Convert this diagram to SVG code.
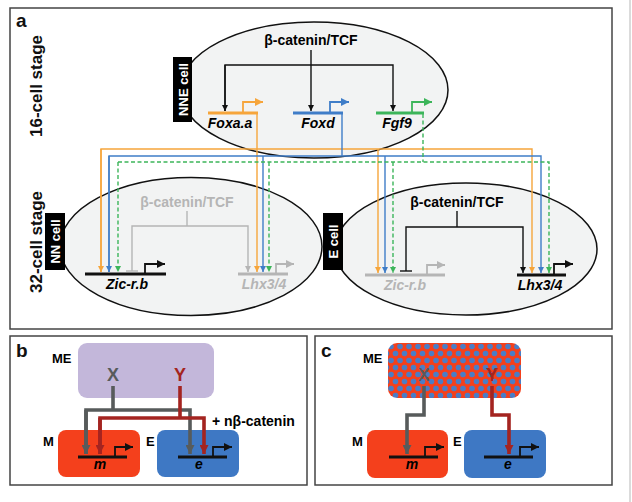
<svg xmlns="http://www.w3.org/2000/svg" width="632" height="502" viewBox="0 0 632 502">
<style>
text{font-family:"Liberation Sans",Arial,sans-serif;font-weight:bold}
.frame{fill:#fff;stroke:#444;stroke-width:1.5}
.cell{fill:#f2f3f3;stroke:#111;stroke-width:1.5}
.lbl{fill:#000}
.lbltxt{fill:#fff;font-size:13px;text-anchor:middle}
.bc{font-size:14px;text-anchor:middle}
.gene{font-size:14px;font-style:italic;text-anchor:middle}
.stage{font-size:17px;text-anchor:middle;fill:#111}
.pl{font-size:19px;fill:#111}
.thin{fill:none;stroke-width:1.4}
.gl{fill:none;stroke-width:3.2}
.pr{fill:none;stroke-width:1.8}
.k{stroke:#111}.o{stroke:#f6a53b}.b{stroke:#3f7dc8}.g{stroke:#3cb55a}.gr{stroke:#b5b5b5}
.dash{stroke-dasharray:4 2.5}
.fat{fill:none;stroke-width:3.6}
.dg{stroke:#575b5b}.dr{stroke:#a42420}
</style>
<defs>
<marker id="ak" viewBox="0 0 10 10" refX="10" refY="5" markerUnits="userSpaceOnUse" markerWidth="7" markerHeight="6" orient="auto"><path d="M0,0L10,5L0,10z" fill="#111"/></marker>
<marker id="ao" viewBox="0 0 10 10" refX="10" refY="5" markerUnits="userSpaceOnUse" markerWidth="7" markerHeight="6" orient="auto"><path d="M0,0L10,5L0,10z" fill="#f6a53b"/></marker>
<marker id="ab" viewBox="0 0 10 10" refX="10" refY="5" markerUnits="userSpaceOnUse" markerWidth="7" markerHeight="6" orient="auto"><path d="M0,0L10,5L0,10z" fill="#3f7dc8"/></marker>
<marker id="ag" viewBox="0 0 10 10" refX="10" refY="5" markerUnits="userSpaceOnUse" markerWidth="7" markerHeight="6" orient="auto"><path d="M0,0L10,5L0,10z" fill="#3cb55a"/></marker>
<marker id="agr" viewBox="0 0 10 10" refX="10" refY="5" markerUnits="userSpaceOnUse" markerWidth="7" markerHeight="6" orient="auto"><path d="M0,0L10,5L0,10z" fill="#b5b5b5"/></marker>
<marker id="pk" viewBox="0 0 10 10" refX="10" refY="5" markerUnits="userSpaceOnUse" markerWidth="8" markerHeight="8" orient="auto"><path d="M0,0L10,5L0,10z" fill="#111"/></marker>
<marker id="po" viewBox="0 0 10 10" refX="10" refY="5" markerUnits="userSpaceOnUse" markerWidth="8" markerHeight="8" orient="auto"><path d="M0,0L10,5L0,10z" fill="#f6a53b"/></marker>
<marker id="pb" viewBox="0 0 10 10" refX="10" refY="5" markerUnits="userSpaceOnUse" markerWidth="8" markerHeight="8" orient="auto"><path d="M0,0L10,5L0,10z" fill="#3f7dc8"/></marker>
<marker id="pg" viewBox="0 0 10 10" refX="10" refY="5" markerUnits="userSpaceOnUse" markerWidth="8" markerHeight="8" orient="auto"><path d="M0,0L10,5L0,10z" fill="#3cb55a"/></marker>
<marker id="pgr" viewBox="0 0 10 10" refX="10" refY="5" markerUnits="userSpaceOnUse" markerWidth="8" markerHeight="8" orient="auto"><path d="M0,0L10,5L0,10z" fill="#b5b5b5"/></marker>
<marker id="fdg" viewBox="0 0 10 10" refX="10" refY="5" markerUnits="userSpaceOnUse" markerWidth="9" markerHeight="9" orient="auto"><path d="M0,0L10,5L0,10z" fill="#575b5b"/></marker>
<marker id="fdr" viewBox="0 0 10 10" refX="10" refY="5" markerUnits="userSpaceOnUse" markerWidth="9" markerHeight="9" orient="auto"><path d="M0,0L10,5L0,10z" fill="#a42420"/></marker>
<pattern id="dots" x="388" y="343" width="9" height="14" patternUnits="userSpaceOnUse">
<rect width="9" height="14" fill="#f4401c"/>
<circle cx="3" cy="3.5" r="2.8" fill="#4a7dc6"/>
<circle cx="7.5" cy="10.5" r="2.8" fill="#4a7dc6"/>
<circle cx="-1.5" cy="10.5" r="2.8" fill="#4a7dc6"/>
</pattern>
</defs>
<line x1="630" y1="0" x2="630" y2="502" stroke="#cfcfcf" stroke-width="1.5"/>

<!-- Panel a -->
<g id="panel-a">
<rect class="frame" x="10" y="8" width="602" height="321"/>
<text class="pl" x="16" y="27">a</text>
<text class="stage" transform="translate(42,86) rotate(-90)">16-cell stage</text>
<text class="stage" transform="translate(42,242) rotate(-90)">32-cell stage</text>
</g>

<g id="nne-cell">
<ellipse class="cell" cx="314" cy="90" rx="134" ry="68"/>
<rect class="lbl" x="173" y="57" width="19" height="65"/>
<text class="lbltxt" transform="translate(187.5,89.5) rotate(-90)">NNE cell</text>
<text class="bc" x="311" y="45">β-catenin/TCF</text>
<path class="thin k" d="M311,50V111" marker-end="url(#ak)"/>
<path class="thin k" d="M225,111V65H393V111" marker-end="url(#ak)"/>
<path class="thin k" d="M225,65V111" marker-end="url(#ak)"/>
<line class="gl o" x1="208" y1="113" x2="258" y2="113"/>
<path class="pr o" d="M243,112V102H263" marker-end="url(#po)"/>
<text class="gene" x="230" y="128">Foxa.a</text>
<line class="gl b" x1="293" y1="113" x2="343" y2="113"/>
<path class="pr b" d="M330,112V102H349" marker-end="url(#pb)"/>
<text class="gene" x="318" y="128">Foxd</text>
<line class="gl g" x1="376" y1="113" x2="424" y2="113"/>
<path class="pr g" d="M412,112V102H432" marker-end="url(#pg)"/>
<text class="gene" x="397" y="128">Fgf9</text>
</g>

<g id="nn-cell">
<ellipse class="cell" cx="191" cy="246.5" rx="131" ry="69"/>
<rect class="lbl" x="45" y="213" width="20" height="57"/>
<text class="lbltxt" transform="translate(60,241.5) rotate(-90)">NN cell</text>
<text class="bc" x="187" y="207" fill="#b5b5b5">β-catenin/TCF</text>
<path class="thin gr" d="M187,211V226"/>
<path class="thin gr" d="M132,271V226H248V272" marker-end="url(#agr)"/>
<line class="thin gr" x1="126" y1="271" x2="138" y2="271" stroke-width="2"/>
<line class="gl k" x1="85" y1="274" x2="166" y2="274"/>
<path class="pr k" d="M145,273V264H165" marker-end="url(#pk)"/>
<text class="gene" x="127" y="289">Zic-r.b</text>
<line class="gl gr" x1="238" y1="274" x2="288" y2="274"/>
<path class="pr gr" d="M276,273V264H294" marker-end="url(#pgr)"/>
<text class="gene" x="264" y="289" fill="#b5b5b5">Lhx3/4</text>
</g>

<g id="e-cell">
<ellipse class="cell" cx="466" cy="249" rx="131" ry="66"/>
<rect class="lbl" x="323" y="213" width="20" height="57"/>
<text class="lbltxt" transform="translate(338,241.5) rotate(-90)">E cell</text>
<text class="bc" x="457" y="207">β-catenin/TCF</text>
<path class="thin k" d="M457,211V227"/>
<path class="thin k" d="M406,271V227H523V273" marker-end="url(#ak)"/>
<line class="thin k" x1="400" y1="271" x2="412" y2="271" stroke-width="2"/>
<line class="gl gr" x1="365" y1="275" x2="445" y2="275"/>
<path class="pr gr" d="M427,274V265H445" marker-end="url(#pgr)"/>
<text class="gene" x="405" y="290" fill="#b5b5b5">Zic-r.b</text>
<line class="gl k" x1="517" y1="275" x2="566" y2="275"/>
<path class="pr k" d="M554,274V264H573" marker-end="url(#pk)"/>
<text class="gene" x="540" y="290">Lhx3/4</text>
</g>

<g id="connectors">
<path class="thin o" d="M257,114V272" marker-end="url(#ao)"/>
<path class="thin o" d="M101,272V149H532V273" marker-end="url(#ao)"/>
<path class="thin o" d="M101,149V272" marker-end="url(#ao)"/>
<path class="thin o" d="M378,149V273" marker-end="url(#ao)"/>
<path class="thin b" d="M342,114V156"/>
<path class="thin b" d="M109,272V156H541V273" marker-end="url(#ab)"/>
<path class="thin b" d="M109,156V272" marker-end="url(#ab)"/>
<path class="thin b" d="M263,156V272" marker-end="url(#ab)"/>
<path class="thin b" d="M385,156V273" marker-end="url(#ab)"/>
<path class="thin g dash" d="M423,114V162"/>
<path class="thin g dash" d="M118,162H549V273" marker-end="url(#ag)"/>
<path class="thin g dash" d="M118,162V272" marker-end="url(#ag)"/>
<path class="thin g dash" d="M269,162V272" marker-end="url(#ag)"/>
<path class="thin g dash" d="M393,162V273" marker-end="url(#ag)"/>
</g>

<!-- Panel b -->
<g id="panel-b">
<rect class="frame" x="10" y="336" width="297" height="149"/>
<text class="pl" x="16" y="357">b</text>
</g>
<g id="b-me">
<rect x="78" y="343" width="136" height="55" rx="9" fill="#c3b7da"/>
<text x="52" y="363" font-size="13">ME</text>
<text x="113" y="381" font-size="18" fill="#575b5b" text-anchor="middle">X</text>
<text x="180" y="381" font-size="18" fill="#a42420" text-anchor="middle">Y</text>
</g>
<g id="b-m">
<rect x="58" y="430" width="82" height="47" rx="8" fill="#f4401c"/>
<text x="43" y="446" font-size="13">M</text>
<line class="gl k" x1="78" y1="457" x2="127" y2="457" stroke-width="2.6"/>
<path class="pr k" d="M115,456V447H133" marker-end="url(#pk)"/>
<text class="gene" x="100" y="469">m</text>
</g>
<g id="b-e">
<rect x="157" y="430" width="82" height="47" rx="8" fill="#3e78c4"/>
<text x="146" y="446" font-size="13">E</text>
<line class="gl k" x1="178" y1="457" x2="227" y2="457" stroke-width="2.6"/>
<path class="pr k" d="M213,456V447H232" marker-end="url(#pk)"/>
<text class="gene" x="199" y="469">e</text>
</g>
<text x="212" y="426" font-size="14">+ nβ-catenin</text>
<g id="b-connectors">
<path class="fat dg" d="M113,386V410"/>
<path class="fat dg" d="M86,454V410H190V454" marker-end="url(#fdg)"/>
<path class="fat dg" d="M86,410V454" marker-end="url(#fdg)"/>
<path class="fat dr" d="M180,386V418"/>
<path class="fat dr" d="M100,454V418H204V454" marker-end="url(#fdr)"/>
<path class="fat dr" d="M100,418V454" marker-end="url(#fdr)"/>
</g>

<!-- Panel c -->
<g id="panel-c">
<rect class="frame" x="315" y="336" width="297" height="149"/>
<text class="pl" x="321" y="357">c</text>
</g>
<g id="c-me">
<rect x="388" y="343" width="133" height="55" rx="9" fill="url(#dots)"/>
<text x="363" y="363" font-size="13">ME</text>
<text x="424" y="381" font-size="18" fill="#575b5b" text-anchor="middle">X</text>
<text x="492" y="381" font-size="18" fill="#a42420" text-anchor="middle">Y</text>
</g>
<g id="c-m">
<rect x="367" y="430" width="81" height="48" rx="8" fill="#f4401c"/>
<text x="352" y="446" font-size="13">M</text>
<line class="gl k" x1="389" y1="457" x2="438" y2="457" stroke-width="2.6"/>
<path class="pr k" d="M425,456V447H444" marker-end="url(#pk)"/>
<text class="gene" x="412" y="469">m</text>
</g>
<g id="c-e">
<rect x="464" y="430" width="82" height="48" rx="8" fill="#3e78c4"/>
<text x="453" y="446" font-size="13">E</text>
<line class="gl k" x1="484" y1="457" x2="533" y2="457" stroke-width="2.6"/>
<path class="pr k" d="M520,456V447H539" marker-end="url(#pk)"/>
<text class="gene" x="508" y="469">e</text>
</g>
<g id="c-connectors">
<path class="fat dg" d="M424,386V415H407V454" marker-end="url(#fdg)"/>
<path class="fat dr" d="M492,386V415H509V454" marker-end="url(#fdr)"/>
</g>
</svg>
